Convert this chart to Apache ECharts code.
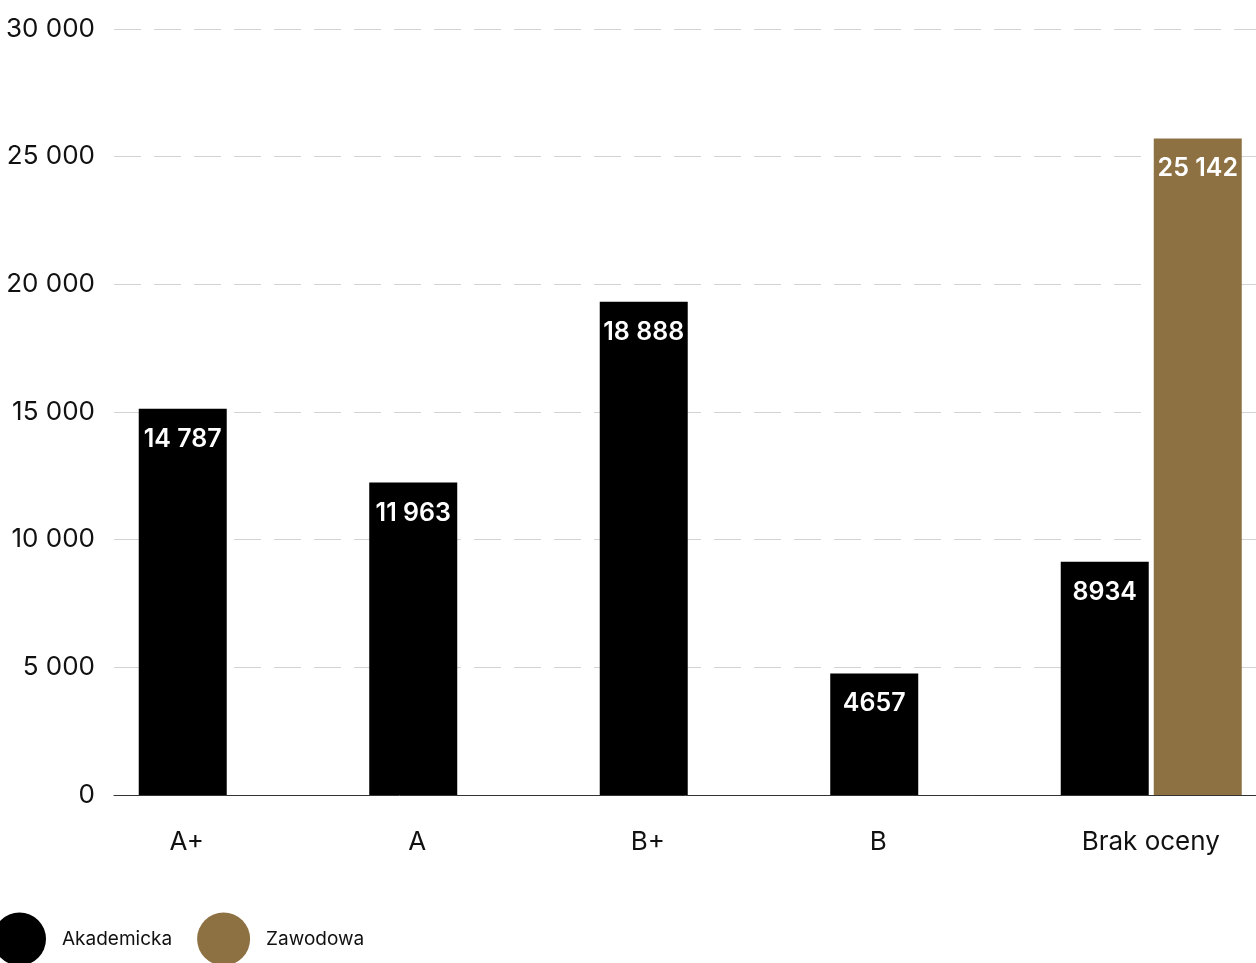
<!DOCTYPE html>
<html><head><meta charset="utf-8">
<script src="https://cdn.jsdelivr.net/npm/echarts@6/dist/echarts.min.js"></script>
<style>html,body{margin:0;padding:0;background:#fff}#c{width:1256px;height:963px}</style>
</head><body><div id="c"></div>
<script>
const categories = ['A+', 'A', 'B+', 'B', 'Brak oceny'];
const akademicka = [14787, 11963, 18888, 4657, 8934];
const zawodowa = [null, null, null, null, 25142];
const yTicks = [0, 5000, 10000, 15000, 20000, 25000, 30000];

function fmtTick(v){ return String(v).replace(/\B(?=(\d{3})+(?!\d))/g, ' '); }
function fmtVal(v){ return v >= 10000 ? fmtTick(v) : String(v); }

const FONT = 'Inter, "Noto Sans", sans-serif';
const chart = echarts.init(document.getElementById('c'), null, {renderer:'canvas'});
chart.setOption({
  animation:false,
  backgroundColor:'#fff',
  grid:{left:114, width:1152.5, top:29, bottom:168, outerBoundsMode:'none', containLabel:false},
  legend:{
    left:-7, top:912.5, padding:0, itemWidth:53, itemHeight:53, itemGap:25, icon:'circle',
    data:['Akademicka','Zawodowa'],
    textStyle:{fontFamily:FONT, fontSize:19, color:'#111', padding:[0,0,0,11]}
  },
  xAxis:{
    type:'category', data:categories,
    axisLine:{show:true, lineStyle:{color:'#333', width:1}},
    axisTick:{show:false},
    axisLabel:{
      interval:0, hideOverlap:false,
      margin:34, fontFamily:FONT, fontSize:26, color:'#111',
      formatter:function(v){ return v === 'Brak oceny' ? '{b|'+v+'}' : '{a|'+v+'}'; },
      rich:{
        a:{fontFamily:FONT, fontSize:26, color:'#111', padding:[0,85,0,0]},
        b:{fontFamily:FONT, fontSize:26, color:'#111', padding:[0,1,0,0]}
      }
    }
  },
  yAxis:[{
    type:'value', min:yTicks[0], max:yTicks[yTicks.length-1], interval:yTicks[1]-yTicks[0],
    axisLine:{show:false}, axisTick:{show:false},
    axisLabel:{margin:19, fontFamily:FONT, fontSize:26, color:'#111', formatter:fmtTick},
    splitLine:{show:true, lineStyle:{color:'#d3d3d3', width:1, type:[27,13]}}
  },{
    type:'value', min:0, max:29330, show:false, splitLine:{show:false}
  }],
  series:[{
    name:'Akademicka', type:'bar', yAxisIndex:1, data:akademicka,
    barWidth:88, barGap:'5.7%',
    itemStyle:{color:'#000'},
    label:{show:true, position:'insideTop', distance:18, color:'#fff', fontFamily:FONT, fontSize:25, fontWeight:600, formatter:function(p){return fmtVal(p.value);}}
  },{
    name:'Zawodowa', type:'bar', yAxisIndex:1, data:zawodowa,
    barWidth:88, barGap:'5.7%',
    itemStyle:{color:'#8e7143'},
    label:{show:true, position:'insideTop', distance:18, color:'#fff', fontFamily:FONT, fontSize:25, fontWeight:600, formatter:function(p){return p.value==null?'':fmtVal(p.value);}}
  }]
});
</script></body></html>
